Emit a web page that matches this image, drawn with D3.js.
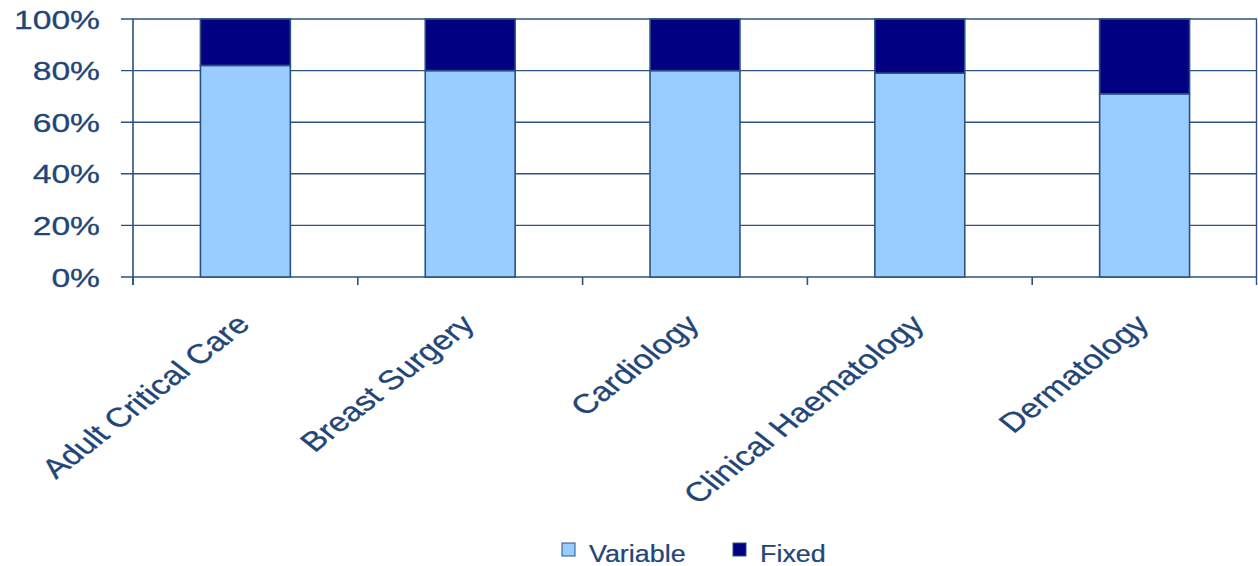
<!DOCTYPE html>
<html><head><meta charset="utf-8">
<script src="https://cdn.jsdelivr.net/npm/d3@7"></script>
<style>html,body{margin:0;padding:0;background:#fff;}svg{display:block;}</style>
</head><body>
<svg id="chart" width="1258" height="566"></svg>
<script>
const categories = ["Adult Critical Care","Breast Surgery","Cardiology","Clinical Haematology","Dermatology"];
const variableVals = [82, 80, 80, 79, 71];
const fixedVals = [18, 20, 20, 21, 29];
const seriesNames = ["Variable","Fixed"];
const seriesColors = ["#99CCFF","#000080"];
const yTicks = [0,20,40,60,80,100];

const W = 1258, H = 566;
const m = {left:133, right:1, top:19, bottom:289};
const sx = 1.27;
const ink = "#1f4677";
const line = "#2c5283";
const font = "Liberation Sans, Arial, sans-serif";

const svg = d3.select("#chart");
const x = d3.scaleBand().domain(categories).range([m.left, W - m.right]).paddingInner(0.6).paddingOuter(0.3);
const y = d3.scaleLinear().domain([0,100]).range([H - m.bottom, m.top]);

const rows = categories.map((c,i)=>({cat:c, Variable:variableVals[i], Fixed:fixedVals[i]}));
const stack = d3.stack().keys(seriesNames)(rows);

// gridlines
svg.append("g").selectAll("line").data(yTicks).join("line")
  .attr("x1", m.left - 12).attr("x2", W - m.right)
  .attr("y1", d=>y(d)).attr("y2", d=>y(d))
  .attr("stroke", line).attr("stroke-width", 1.4);

// bars
const g = svg.append("g");
stack.forEach((s,si)=>{
  g.selectAll(null).data(s).join("rect")
    .attr("x", d=>x(d.data.cat))
    .attr("width", x.bandwidth())
    .attr("y", d=>y(d[1]))
    .attr("height", d=>y(d[0]) - y(d[1]))
    .attr("fill", seriesColors[si])
    .attr("stroke", line).attr("stroke-width", 1.6);
});

// axes lines
svg.append("line").attr("x1", m.left).attr("x2", m.left).attr("y1", y(100)).attr("y2", y(0)+8)
  .attr("stroke", line).attr("stroke-width", 1.6);
svg.append("line").attr("x1", W - m.right - 0.5).attr("x2", W - m.right - 0.5).attr("y1", y(100)).attr("y2", y(0)+8)
  .attr("stroke", line).attr("stroke-width", 1.4);
const step = x.step();
const bounds = d3.range(categories.length).map(i => m.left + i*step);
svg.append("g").selectAll("line").data(bounds).join("line")
  .attr("x1", d=>d).attr("x2", d=>d).attr("y1", y(0)).attr("y2", y(0)+8)
  .attr("stroke", line).attr("stroke-width", 1.6);

// y labels
svg.append("g").selectAll("text").data(yTicks).join("text")
  .attr("transform", d=>`translate(100,${y(d)+9.5}) scale(${sx},1)`)
  .attr("text-anchor","end")
  .attr("font-family", font).attr("font-size", 26.5).attr("fill", ink)
  .attr("stroke", ink).attr("stroke-width", 0.3)
  .text(d=>d+"%");

// x labels
svg.append("g").selectAll("text").data(categories).join("text")
  .attr("transform", d=>`translate(${x(d)+x.bandwidth()/2+6},${y(0)+49}) scale(${sx},1) rotate(-45)`)
  .attr("text-anchor","end")
  .attr("font-family", font).attr("font-size", 27).attr("fill", ink)
  .attr("stroke", ink).attr("stroke-width", 0.3)
  .text(d=>d);

// legend
const legX = [562, 733];
const leg = svg.append("g");
seriesNames.forEach((n,i)=>{
  leg.append("rect").attr("x", legX[i]).attr("y", 543).attr("width", 13).attr("height", 13)
    .attr("fill", seriesColors[i]).attr("stroke", line).attr("stroke-width", 1);
  leg.append("text").attr("transform", `translate(${legX[i]+27},562) scale(1.12,1)`)
    .attr("font-family", font).attr("font-size", 24).attr("fill", ink)
    .attr("stroke", ink).attr("stroke-width", 0.25).text(n);
});
</script>
</body></html>
